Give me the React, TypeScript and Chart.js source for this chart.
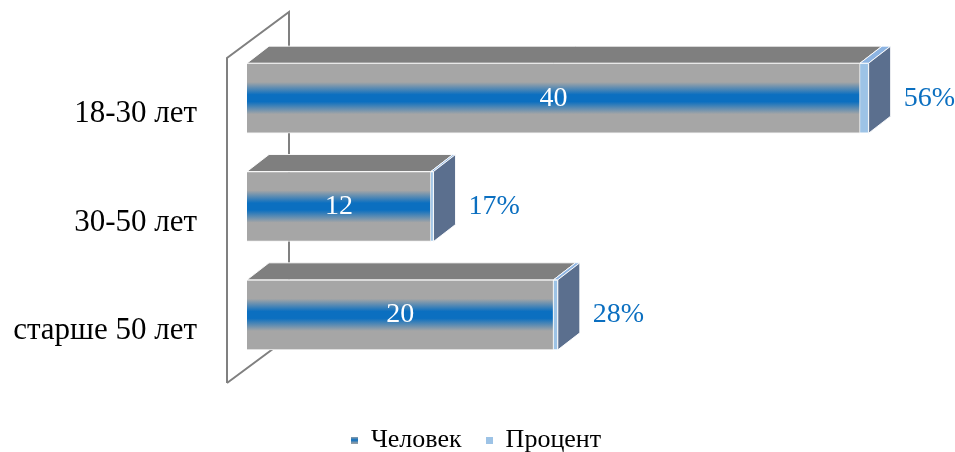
import React, { useEffect, useRef } from 'react';
import { Chart, registerables } from 'chart.js';

Chart.register(...registerables);

// ---- data ----
const categories = ['18-30 лет', '30-50 лет', 'старше 50 лет'];
const seriesNames = ['Человек', 'Процент'];
const people = [40, 12, 20];
const percent = [0.56, 0.17, 0.28];
const xMax = 46;

// ---- style ----
const SERIF = '"Liberation Serif", "Times New Roman", serif';
const DX = 22;
const DY = -17;
const BAR_T = 70;
const GRAY = '#a6a6a6';
const BLUE = '#0b6fc0';
const TOP_COLORS = ['#7f7f7f', '#8db4e2'];
const SIDE_COLOR = '#5b6f8e';
const PCT_COLOR = '#9dc3e6';
const LABEL_BLUE = '#0b6fc0';

function frontGradient(ctx: CanvasRenderingContext2D, cy: number) {
  const g = ctx.createLinearGradient(0, cy - BAR_T / 2, 0, cy + BAR_T / 2);
  g.addColorStop(0, GRAY);
  g.addColorStop(0.27, GRAY);
  g.addColorStop(0.45, BLUE);
  g.addColorStop(0.55, BLUE);
  g.addColorStop(0.73, GRAY);
  g.addColorStop(1, GRAY);
  return g;
}

function makeMarker(kind: number): HTMLCanvasElement {
  const c = document.createElement('canvas');
  c.width = 7;
  c.height = 7;
  const x = c.getContext('2d')!;
  if (kind === 0) {
    const g = x.createLinearGradient(0, 0, 0, 7);
    g.addColorStop(0, GRAY);
    g.addColorStop(0.5, BLUE);
    g.addColorStop(1, GRAY);
    x.fillStyle = g;
  } else {
    x.fillStyle = PCT_COLOR;
  }
  x.fillRect(0, 0, 7, 7);
  return c;
}

const bar3d = {
  id: 'bar3d',
  beforeDatasetsDraw(chart: any) {
    const { ctx, chartArea } = chart;
    const { left, top, bottom } = chartArea;
    const fx = left - 20;
    const bx = left + 42;
    ctx.save();
    ctx.strokeStyle = '#808080';
    ctx.lineWidth = 2;
    ctx.beginPath();
    ctx.moveTo(fx, bottom + 14);
    ctx.lineTo(fx, top + 14);
    ctx.lineTo(bx, top - 32);
    ctx.lineTo(bx, bottom - 32);
    ctx.lineTo(fx, bottom + 14);
    ctx.stroke();
    ctx.restore();
  },
  afterDatasetsDraw(chart: any) {
    const { ctx } = chart;
    const nSets = chart.data.datasets.length;
    ctx.save();
    ctx.lineWidth = 1;
    ctx.strokeStyle = 'rgba(255,255,255,0.9)';
    const n = chart.data.labels.length;
    for (let i = 0; i < n; i++) {
      for (let d = 0; d < nSets; d++) {
        const el: any = chart.getDatasetMeta(d).data[i];
        const x0 = Math.min(el.base, el.x);
        const x1 = Math.max(el.base, el.x);
        const yT = el.y - el.height / 2;
        const yB = el.y + el.height / 2;
        // top face
        ctx.fillStyle = TOP_COLORS[d];
        ctx.beginPath();
        ctx.moveTo(x0, yT);
        ctx.lineTo(x0 + DX, yT + DY);
        ctx.lineTo(x1 + DX, yT + DY);
        ctx.lineTo(x1, yT);
        ctx.closePath();
        ctx.fill();
        ctx.stroke();
        if (d === nSets - 1) {
          ctx.fillStyle = SIDE_COLOR;
          ctx.beginPath();
          ctx.moveTo(x1, yT);
          ctx.lineTo(x1 + DX, yT + DY);
          ctx.lineTo(x1 + DX, yB + DY);
          ctx.lineTo(x1, yB);
          ctx.closePath();
          ctx.fill();
          ctx.stroke();
        }
      }
    }
    // labels
    ctx.textBaseline = 'middle';
    for (let i = 0; i < n; i++) {
      const e0: any = chart.getDatasetMeta(0).data[i];
      ctx.font = `28px ${SERIF}`;
      ctx.fillStyle = '#ffffff';
      ctx.textAlign = 'center';
      ctx.fillText(String(chart.data.datasets[0].data[i]), (e0.base + e0.x) / 2, e0.y);
      const e1: any = chart.getDatasetMeta(nSets - 1).data[i];
      const v = chart.data.datasets[nSets - 1].data[i] as number;
      ctx.fillStyle = LABEL_BLUE;
      ctx.textAlign = 'left';
      ctx.fillText(`${Math.round(v * 100)}%`, Math.max(e1.x, e1.base) + DX + 13, e1.y);
    }
    ctx.restore();
  },
};

export default function App() {
  const ref = useRef<HTMLCanvasElement>(null);
  useEffect(() => {
    const canvas = ref.current!;
    const markers = [makeMarker(0), makeMarker(1)];
    const chart = new Chart(canvas, {
      type: 'bar',
      data: {
        labels: categories,
        datasets: [
          {
            label: seriesNames[0],
            data: people,
            backgroundColor: (c: any) => {
              const ys = c.chart.scales?.y;
              if (!ys || c.dataIndex === undefined) return BLUE;
              return frontGradient(c.chart.ctx, ys.getPixelForValue(c.dataIndex));
            },
            borderColor: '#f2f2f2',
            borderWidth: 1,
            barThickness: BAR_T,
          },
          {
            label: seriesNames[1],
            data: percent,
            backgroundColor: PCT_COLOR,
            borderColor: '#ffffff',
            borderWidth: 1,
            barThickness: BAR_T,
          },
        ],
      },
      options: {
        responsive: false,
        animation: false,
        indexAxis: 'y',
        layout: { padding: { top: 44, right: 3, left: 0, bottom: -11 } },
        scales: {
          x: {
            stacked: true,
            min: 0,
            max: xMax,
            display: true,
            grid: { display: false },
            border: { display: false },
            ticks: { display: false },
            afterFit: (s: any) => {
              s.height = 34;
            },
          },
          y: {
            stacked: true,
            grid: { display: false, drawTicks: true, tickLength: 46 },
            border: { display: false },
            ticks: {
              padding: 4,
              labelOffset: 16,
              color: '#000000',
              font: { family: SERIF, size: 31 },
            },
            afterFit: (s: any) => {
              s.width = 247;
            },
          },
        },
        plugins: {
          legend: {
            position: 'bottom',
            labels: {
              usePointStyle: true,
              boxWidth: 7,
              boxHeight: 7,
              padding: 24,
              color: '#000000',
              font: { family: SERIF, size: 26 },
              generateLabels: () =>
                seriesNames.map((t, i) => ({
                  text: t,
                  fillStyle: i === 0 ? BLUE : PCT_COLOR,
                  strokeStyle: 'transparent',
                  lineWidth: 0,
                  pointStyle: markers[i],
                  hidden: false,
                  datasetIndex: i,
                })),
            },
          },
          tooltip: { enabled: false },
        },
      },
      plugins: [bar3d],
    } as any);
    return () => chart.destroy();
  }, []);
  return (
    <div style={{ position: 'fixed', left: 0, top: 0, width: 955, height: 452, background: '#fff' }}>
      <canvas ref={ref} width={955} height={452} style={{ display: 'block' }} />
    </div>
  );
}
